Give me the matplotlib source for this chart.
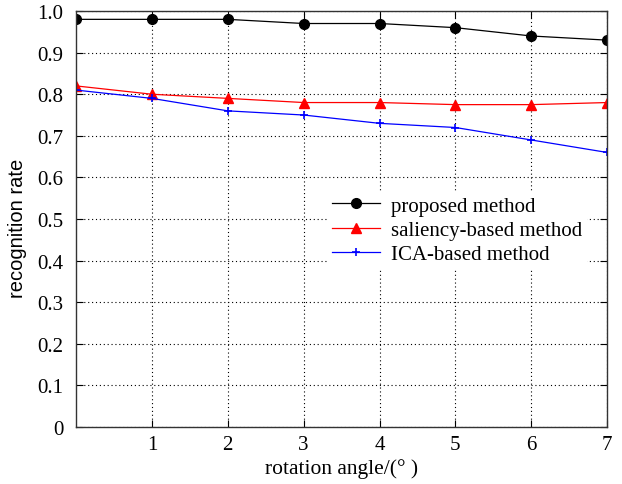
import matplotlib
matplotlib.use("Agg")
import matplotlib.pyplot as plt

angles = [0, 1, 2, 3, 4, 5, 6, 7]
proposed = [0.98, 0.98, 0.98, 0.97, 0.97, 0.96, 0.94, 0.93]
saliency = [0.82, 0.80, 0.79, 0.78, 0.78, 0.775, 0.775, 0.78]
ica = [0.81, 0.79, 0.76, 0.75, 0.73, 0.72, 0.69, 0.66]
xticks = [1, 2, 3, 4, 5, 6, 7]
yticks = [0, 0.1, 0.2, 0.3, 0.4, 0.5, 0.6, 0.7, 0.8, 0.9, 1.0]
ytick_labels = ["0", "0.1", "0.2", "0.3", "0.4", "0.5", "0.6", "0.7", "0.8", "0.9", "1.0"]

plt.rcParams['font.family'] = ['Liberation Serif', 'DejaVu Serif']

fig = plt.figure(figsize=(6.22, 4.85), dpi=100)
ax = fig.add_axes([0.1222, 0.1175, 0.854, 0.8577])

ax.plot(angles, proposed, color='black', marker='o', markersize=7, linewidth=0.9, label='proposed method')
ax.plot(angles, saliency, color='red', marker='^', markersize=7.5, linewidth=0.9, label='saliency-based method')
ax.plot(angles, ica, color='blue', marker='+', markersize=6, markeredgewidth=1.2, linewidth=0.9, label='ICA-based method')

ax.set_xlim(0, 7)
ax.set_ylim(0, 1.0)
ax.set_xticks(xticks)
ax.set_yticks(yticks)
ax.set_yticklabels(ytick_labels)
ax.grid(True, linestyle=(0, (1, 2.5)), color='black', linewidth=0.8)
ax.tick_params(direction='in', top=True, right=True, length=5, labelsize=15)
ax.tick_params(axis='y', pad=9)
ax.tick_params(axis='x', pad=6)
for s in ax.spines.values():
    s.set_linewidth(1.0)
    s.set_color('#333333')

ax.set_xlabel('rotation angle/(° )', fontsize=15.5, labelpad=3)
ax.set_ylabel('recognition rate', fontsize=14.5, family=['Liberation Sans', 'DejaVu Sans'])
ax.yaxis.set_label_coords(-0.092, 0.48)

leg = ax.legend(loc='upper left', bbox_to_anchor=(0.475, 0.565), frameon=True, fancybox=False,
                edgecolor='white', framealpha=1, fontsize=15, handlelength=2.3,
                borderpad=0.2, labelspacing=0.22, handletextpad=0.5, borderaxespad=0)

fig.savefig('out.png', dpi=100)
